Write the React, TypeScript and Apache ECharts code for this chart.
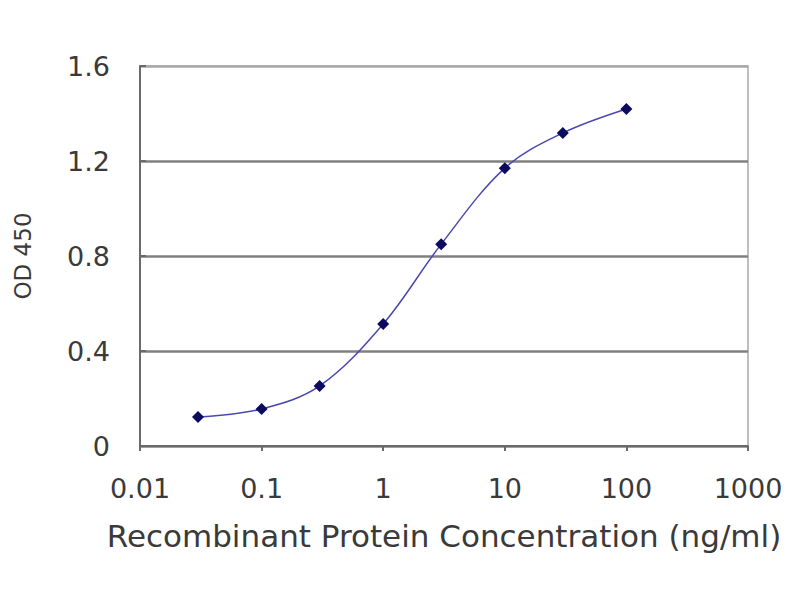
import * as echarts from "echarts";
import { useEffect, useRef } from "react";

// (concentration in ng/ml, OD 450)
const concentrations = [0.03, 0.1, 0.3, 1, 3, 10, 30, 100];
const od450 = [0.122, 0.156, 0.253, 0.514, 0.85, 1.17, 1.318, 1.419];
const xTickLabels = ["0.01", "0.1", "1", "10", "100", "1000"];

const TEXT = "#3a3a3a";
const FONT = "DejaVu Sans, Arial, sans-serif";

export default function App() {
  const ref = useRef<HTMLDivElement>(null);

  useEffect(() => {
    const el = ref.current;
    if (!el) return;
    const chart = echarts.init(el, undefined, { renderer: "svg" });
    chart.setOption({
      animation: false,
      backgroundColor: "#ffffff",
      textStyle: { fontFamily: FONT },
      grid: {
        left: 140,
        right: 52,
        top: 66,
        bottom: 154,
        show: true,
        borderColor: "#a8a8a8",
        borderWidth: 1.5,
      },
      xAxis: {
        type: "log",
        logBase: 10,
        min: 0.01,
        max: 1000,
        splitNumber: 5,
        name: "Recombinant Protein Concentration (ng/ml)",
        nameLocation: "middle",
        nameGap: 74,
        nameTextStyle: { color: TEXT, fontSize: 31, fontFamily: FONT },
        axisLine: { lineStyle: { color: "#6a6a6a", width: 2 } },
        axisTick: { show: true, inside: false, length: 5, lineStyle: { color: "#6a6a6a", width: 2 } },
        minorTick: { show: false },
        splitLine: { show: false },
        axisLabel: {
          color: TEXT,
          fontSize: 27,
          fontFamily: FONT,
          margin: 29,
          formatter: (v: number) => xTickLabels[Math.round(Math.log10(v)) + 2] ?? String(v),
        },
      },
      yAxis: {
        type: "value",
        min: 0,
        max: 1.6,
        interval: 0.4,
        name: "OD 450",
        nameLocation: "middle",
        nameGap: 106,
        nameTextStyle: { color: TEXT, fontSize: 23, fontFamily: FONT },
        axisLine: { show: true, lineStyle: { color: "#6a6a6a", width: 2 } },
        axisTick: { show: true, inside: true, length: 6, lineStyle: { color: "#6a6a6a", width: 2 } },
        splitLine: {
          show: true,
          lineStyle: { color: ["#808080", "#808080", "#808080", "#808080", "#a8a8a8"], width: 2.5 },
        },
        axisLabel: {
          color: TEXT,
          fontSize: 27,
          fontFamily: FONT,
          margin: 30,
          formatter: (v: number) => (v === 0 ? "0" : v.toFixed(1)),
        },
      },
      series: [
        {
          type: "line",
          data: concentrations.map((c, i) => [c, od450[i]]),
          smooth: 0.35,
          symbol: "diamond",
          symbolSize: 12,
          lineStyle: { color: "#4848b0", width: 1.5 },
          itemStyle: { color: "#0b0b60" },
        },
      ],
    });
    return () => chart.dispose();
  }, []);

  return <div ref={ref} style={{ position: "fixed", left: 0, top: 0, width: 800, height: 600 }} />;
}
